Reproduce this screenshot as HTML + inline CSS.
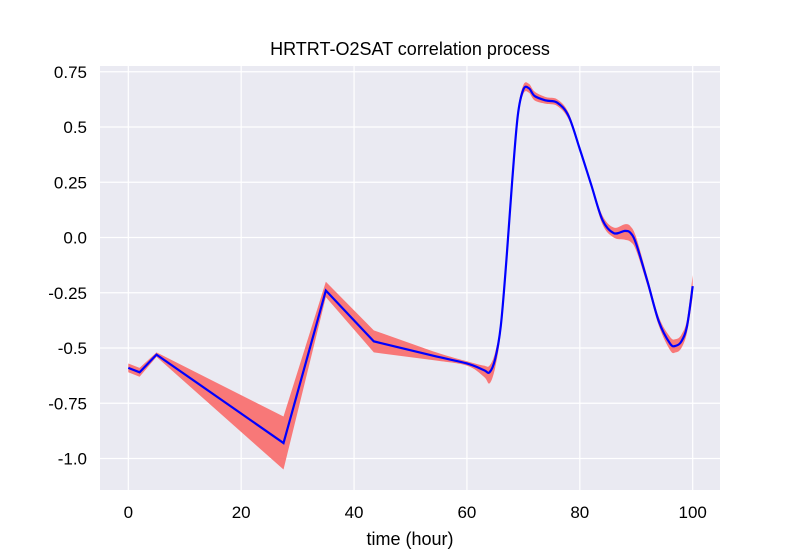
<!DOCTYPE html>
<html><head><meta charset="utf-8"><style>
body{margin:0;background:#fff;}
svg text{font-family:"Liberation Sans",Helvetica,Arial,sans-serif;fill:#000;}
</style></head><body>
<svg id="chart" width="800" height="550">
<rect x="100" y="66" width="620" height="424" fill="#eaeaf2"/>
<g id="grid"></g>
<path id="band" fill="#f87878"/>
<path id="line" fill="none" stroke="#0000ff" stroke-width="2.2"/>
<g id="ticks"></g>
<text x="410" y="55" text-anchor="middle" font-size="18">HRTRT-O2SAT correlation process</text>
<text x="410" y="545" text-anchor="middle" font-size="18">time (hour)</text>
</svg>
<script>
const xs    = [0,2,5,27.5,35,43.5,54,60,63,64,65,66,67,68,69,70,71,72,74,76,78,80,82,84,86,88,89,90,92,94,96,97,98,99,100];
const mean  = [-0.59,-0.61,-0.53,-0.93,-0.24,-0.47,-0.535,-0.57,-0.60,-0.61,-0.55,-0.40,-0.10,0.25,0.55,0.67,0.675,0.64,0.62,0.61,0.55,0.40,0.24,0.08,0.02,0.03,0.02,-0.03,-0.20,-0.38,-0.48,-0.49,-0.47,-0.40,-0.22];
const upper = [-0.57,-0.59,-0.52,-0.81,-0.20,-0.42,-0.515,-0.56,-0.58,-0.58,-0.52,-0.38,-0.08,0.27,0.57,0.69,0.695,0.66,0.635,0.625,0.565,0.41,0.25,0.10,0.045,0.06,0.05,0.0,-0.18,-0.36,-0.45,-0.46,-0.44,-0.37,-0.17];
const lower = [-0.61,-0.63,-0.54,-1.05,-0.27,-0.52,-0.555,-0.58,-0.63,-0.66,-0.59,-0.43,-0.12,0.23,0.53,0.65,0.655,0.62,0.605,0.595,0.535,0.39,0.23,0.06,0.0,-0.01,-0.02,-0.06,-0.22,-0.40,-0.51,-0.52,-0.50,-0.43,-0.27];
const xTicks = [0,20,40,60,80,100];
const yTicks = [0.75,0.5,0.25,0.0,-0.25,-0.5,-0.75,-1.0];
const yLabels = ["0.75","0.5","0.25","0.0","-0.25","-0.5","-0.75","-1.0"];
const X = v => 128.3 + v*5.644;
const Y = v => 237.5 - v*221;
const NS="http://www.w3.org/2000/svg";
const SMOOTH_FROM = 6;
const grid=document.getElementById('grid'), ticks=document.getElementById('ticks');
xTicks.forEach(t=>{
 const l=document.createElementNS(NS,'line');
 l.setAttribute('x1',X(t));l.setAttribute('x2',X(t));l.setAttribute('y1',66);l.setAttribute('y2',490);
 l.setAttribute('stroke','#fff');l.setAttribute('stroke-width','1.2');
 
 
 grid.appendChild(l);
 const tx=document.createElementNS(NS,'text');
 tx.setAttribute('x',X(t));tx.setAttribute('y',518);tx.setAttribute('text-anchor','middle');tx.setAttribute('font-size','17');
 tx.textContent=t;
 
 
 ticks.appendChild(tx);
});
yTicks.forEach((t,i)=>{
 const l=document.createElementNS(NS,'line');
 l.setAttribute('y1',Y(t));l.setAttribute('y2',Y(t));l.setAttribute('x1',100);l.setAttribute('x2',720);
 l.setAttribute('stroke','#fff');l.setAttribute('stroke-width','1.2');
 
 
 grid.appendChild(l);
 const tx=document.createElementNS(NS,'text');
 tx.setAttribute('x',87);tx.setAttribute('y',Y(t)+6);tx.setAttribute('text-anchor','end');tx.setAttribute('font-size','17');
 tx.textContent=yLabels[i];
 
 
 ticks.appendChild(tx);
});
// build path segments: linear before SMOOTH_FROM, catmull-rom after
function seg(pts, start){
 let d='';
 for(let i=1;i<pts.length;i++){
  const gi = start+i;
  if(gi<=SMOOTH_FROM){ d+='L'+pts[i][0]+','+pts[i][1]; continue; }
  const p0=pts[Math.max(i-2,0)],p1=pts[i-1],p2=pts[i],p3=pts[Math.min(i+1,pts.length-1)];
  const c1=[p1[0]+(p2[0]-p0[0])/6,p1[1]+(p2[1]-p0[1])/6];
  const c2=[p2[0]-(p3[0]-p1[0])/6,p2[1]-(p3[1]-p1[1])/6];
  d+='C'+c1[0]+','+c1[1]+' '+c2[0]+','+c2[1]+' '+p2[0]+','+p2[1];
 }
 return d;
}
function segRev(pts){
 // reverse traversal: smooth for indices >= SMOOTH_FROM
 let d='';
 const n=pts.length;
 for(let i=n-2;i>=0;i--){
  if(i+1<=SMOOTH_FROM){ d+='L'+pts[i][0]+','+pts[i][1]; continue; }
  const p0=pts[Math.min(i+2,n-1)],p1=pts[i+1],p2=pts[i],p3=pts[Math.max(i-1,0)];
  const c1=[p1[0]+(p2[0]-p0[0])/6,p1[1]+(p2[1]-p0[1])/6];
  const c2=[p2[0]-(p3[0]-p1[0])/6,p2[1]-(p3[1]-p1[1])/6];
  d+='C'+c1[0]+','+c1[1]+' '+c2[0]+','+c2[1]+' '+p2[0]+','+p2[1];
 }
 return d;
}
const up=xs.map((x,i)=>[X(x),Y(upper[i])]);
const lo=xs.map((x,i)=>[X(x),Y(lower[i])]);
const mn=xs.map((x,i)=>[X(x),Y(mean[i])]);
const n=xs.length;
let d='M'+up[0][0]+','+up[0][1]+seg(up,0)+'L'+lo[n-1][0]+','+lo[n-1][1]+segRev(lo)+'Z';
document.getElementById('band').setAttribute('d',d);
document.getElementById('line').setAttribute('d','M'+mn[0][0]+','+mn[0][1]+seg(mn,0));
</script>
</body></html>
